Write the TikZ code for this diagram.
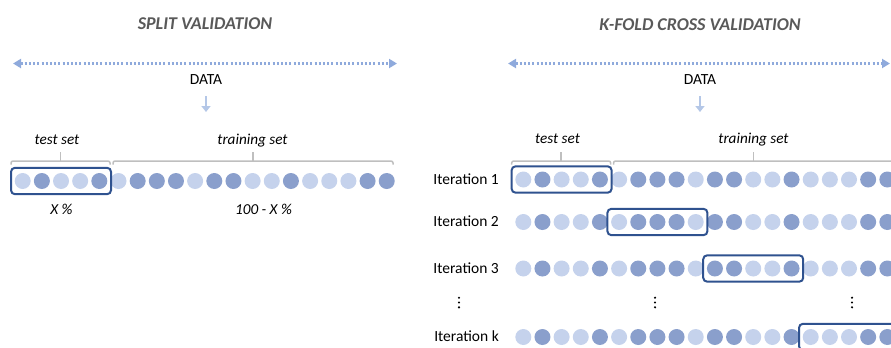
\documentclass[tikz,border=0pt]{standalone}
\usepackage{fontspec}
\setmainfont{Carlito}
\usetikzlibrary{arrows.meta,fit}
\definecolor{lightc}{RGB}{197,210,236}
\definecolor{darkc}{RGB}{138,159,204}
\definecolor{boxc}{RGB}{47,82,143}
\definecolor{arrc}{RGB}{143,170,220}
\definecolor{downc}{RGB}{180,199,231}
\definecolor{bracec}{RGB}{191,191,191}
\definecolor{titlec}{RGB}{89,89,89}
\begin{document}
\begin{tikzpicture}[x=1bp,y=-1bp,
  dot/.style={circle, minimum size=16bp, inner sep=0pt, draw=none},
  selbox/.style={draw=boxc, line width=2bp, rounded corners=4bp, inner xsep=3.5bp, inner ysep=5bp},
  bracel/.style={draw=bracec, line width=1.5bp, rounded corners=2bp},
  title/.style={anchor=base, inner sep=0pt, font=\fontsize{18bp}{21bp}\selectfont\bfseries\itshape, text=titlec},
  lab/.style={anchor=base, inner sep=0pt, font=\fontsize{15.5bp}{18bp}\selectfont},
  ilab/.style={anchor=base, inner sep=0pt, font=\fontsize{15.2bp}{18bp}\selectfont\itshape},
  itlab/.style={anchor=base east, inner sep=0pt, font=\fontsize{15.5bp}{18bp}\selectfont},
  datarr/.style={draw=arrc, line width=2.3bp, dash pattern=on 2bp off 2.2bp, {Triangle[length=8bp,width=9bp]}-{Triangle[length=8bp,width=9bp]}},
  downarr/.style={draw=downc, line width=2.5bp, -{Triangle[length=6bp,width=9bp]}},
]
\useasboundingbox (0,0) rectangle (891,347);
\clip (0,0) rectangle (891,347);
\def\colist{lightc,darkc,lightc,lightc,darkc,lightc,darkc,darkc,darkc,lightc,darkc,darkc,lightc,lightc,darkc,lightc,lightc,lightc,darkc,darkc}

% ---------- left panel ----------
\node[title] (t1) at (205,29.5) {SPLIT VALIDATION};
\coordinate (a1l) at (13,63.5);
\coordinate (a1r) at (397,63.5);
\draw[datarr] (a1l) -- (a1r);
\node[lab] (d1) at (206,84) {DATA};
\coordinate (dn1a) at (206,96);
\coordinate (dn1b) at (206,112);
\draw[downarr] (dn1a) -- (dn1b);
\node[ilab] (ts1) at (57,144) {test set};
\node[ilab] (tr1) at (252.5,144) {training set};
\draw[bracel] (11,164.5) -- (11,161) -- (110,161) -- (110,164.5);
\draw[bracel] (60.5,161) -- (60.5,152);
\draw[bracel] (113,164.5) -- (113,161) -- (393,161) -- (393,164.5);
\draw[bracel] (253,161) -- (253,152);
\foreach \c [count=\i] in \colist
  \node[dot, fill=\c] (L\i) at ({22.7+(\i-1)*19.16},181) {};
\node[selbox, fit=(L1)(L5)] (LB) {};
\node[ilab] (xp) at (61.5,214) {X \%};
\node[ilab] (xq) at (263.5,214) {100 - X \%};

% ---------- right panel ----------
\node[title] (t2) at (700,30) {K-FOLD CROSS VALIDATION};
\coordinate (a2l) at (508,63.5);
\coordinate (a2r) at (890,63.5);
\draw[datarr] (a2l) -- (a2r);
\node[lab] (d2) at (700,84) {DATA};
\coordinate (dn2a) at (700,96);
\coordinate (dn2b) at (700,112);
\draw[downarr] (dn2a) -- (dn2b);
\node[ilab] (ts2) at (557.5,143.5) {test set};
\node[ilab] (tr2) at (753.5,143.5) {training set};
\draw[bracel] (511.7,164.5) -- (511.7,161) -- (610.7,161) -- (610.7,164.5);
\draw[bracel] (561,161) -- (561,152);
\draw[bracel] (613.5,164.5) -- (613.5,161) -- (894,161) -- (894,164.5);
\draw[bracel] (753.5,161) -- (753.5,152);
\foreach \r/\yy in {1/179.5,2/222,3/268.5,4/337} {
  \foreach \c [count=\i] in \colist
    \node[dot, fill=\c] (R\r-\i) at ({523.3+(\i-1)*19.16},\yy) {};
}
\node[selbox, fit=(R1-1)(R1-5)] (B1) {};
\node[selbox, fit=(R2-6)(R2-10)] (B2) {};
\node[selbox, fit=(R3-11)(R3-15)] (B3) {};
\node[selbox, fit=(R4-16)(R4-20)] (B4) {};
\node[itlab] (i1) at (499,184) {Iteration 1};
\node[itlab] (i2) at (499,226.5) {Iteration 2};
\node[itlab] (i3) at (499,273) {Iteration 3};
\node[itlab] (ik) at (499,341.6) {Iteration k};
\foreach \xx in {459,655,852} {
  \fill (\xx,297.7) circle (1.2bp);
  \fill (\xx,302.5) circle (1.2bp);
  \fill (\xx,307.3) circle (1.2bp);
}
\end{tikzpicture}
\end{document}
